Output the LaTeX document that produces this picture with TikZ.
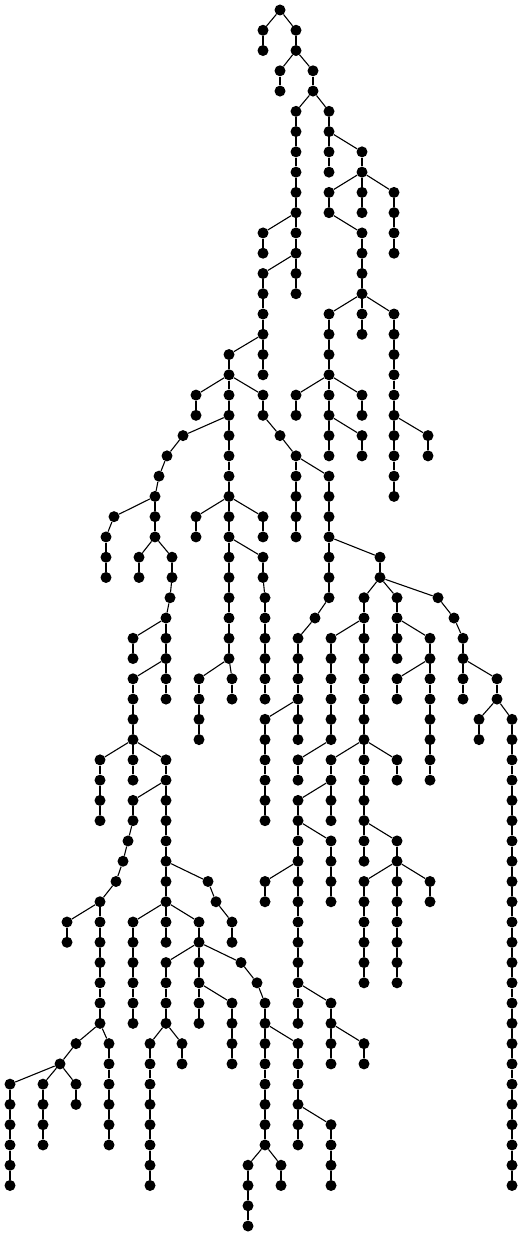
\documentclass[tikz,border=0pt]{standalone}
\begin{document}
\begin{tikzpicture}[x=1pt,y=-1pt,
  dot/.style={circle,fill=black,inner sep=0pt,minimum size=11pt},
  edge/.style={line width=1.1pt,black}]
\useasboundingbox (0,0) rectangle (527,1236);
\node[dot] (n0-280) at (280,10) {};
\foreach \k/\x/\p in {
1/263/280, 1/296/280,
2/263/263, 2/296/296,
3/280/296, 3/313/296,
4/280/280, 4/313/313,
5/296/313, 5/329/313,
6/296/296, 6/329/329,
7/296/296, 7/329/329, 7/362/329,
8/296/296, 8/329/329, 8/362/362,
9/296/296, 9/329/362, 9/362/362, 9/394/362,
10/296/296, 10/329/329, 10/362/362, 10/394/394,
11/263/296, 11/296/296, 11/362/329, 11/394/394,
12/263/263, 12/296/296, 12/362/362, 12/394/394,
13/263/296, 13/296/296, 13/362/362,
14/263/263, 14/296/296, 14/362/362,
15/263/263, 15/329/362, 15/362/362, 15/394/362,
16/263/263, 16/329/329, 16/362/362, 16/394/394,
17/229/263, 17/263/263, 17/329/329, 17/394/394,
18/229/229, 18/263/263, 18/329/329, 18/394/394,
19/196/229, 19/229/229, 19/263/229, 19/296/329, 19/329/329, 19/362/329, 19/394/394,
20/196/196, 20/229/229, 20/263/263, 20/296/296, 20/329/329, 20/362/362, 20/394/394,
21/183/229, 21/229/229, 21/280/263, 21/329/329, 21/362/329, 21/394/394, 21/428/394,
22/167/183, 22/229/229, 22/296/280, 22/329/329, 22/362/362, 22/394/394, 22/428/428,
23/159/167, 23/229/229, 23/296/296, 23/329/296, 23/394/394,
24/155/159, 24/229/229, 24/296/296, 24/329/329, 24/394/394,
25/114/155, 25/155/155, 25/196/229, 25/229/229, 25/263/229, 25/296/296, 25/329/329,
26/106/114, 26/155/155, 26/196/196, 26/229/229, 26/263/263, 26/296/296, 26/329/329,
27/106/106, 27/139/155, 27/172/155, 27/229/229, 27/263/229, 27/329/329, 27/380/329,
28/106/106, 28/139/139, 28/172/172, 28/229/229, 28/263/263, 28/329/329, 28/380/380,
29/170/172, 29/229/229, 29/265/263, 29/329/329, 29/364/380, 29/397/380, 29/438/380,
30/166/170, 30/229/229, 30/265/265, 30/315/329, 30/364/364, 30/397/397, 30/454/438,
31/133/166, 31/166/166, 31/229/229, 31/265/265, 31/298/315, 31/331/364, 31/364/364, 31/397/397, 31/430/397, 31/463/454,
32/133/133, 32/166/166, 32/229/229, 32/265/265, 32/298/298, 32/331/331, 32/364/364, 32/397/397, 32/430/430, 32/463/463,
33/133/166, 33/166/166, 33/199/229, 33/232/229, 33/265/265, 33/298/298, 33/331/331, 33/364/364, 33/397/430, 33/430/430, 33/463/463, 33/497/463,
34/133/133, 34/166/166, 34/199/199, 34/232/232, 34/265/265, 34/298/298, 34/331/331, 34/364/364, 34/397/397, 34/430/430, 34/463/463, 34/497/497,
35/133/133, 35/199/199, 35/265/298, 35/298/298, 35/331/331, 35/364/364, 35/430/430, 35/479/497, 35/512/497,
36/133/133, 36/199/199, 36/265/265, 36/298/298, 36/331/331, 36/364/364, 36/430/430, 36/479/479, 36/512/512,
37/100/133, 37/133/133, 37/166/133, 37/265/265, 37/298/331, 37/331/364, 37/364/364, 37/397/364, 37/430/430, 37/512/512,
38/100/100, 38/133/133, 38/166/166, 38/265/265, 38/298/298, 38/331/331, 38/364/364, 38/397/397, 38/430/430, 38/512/512,
39/100/100, 39/133/166, 39/166/166, 39/265/265, 39/298/331, 39/331/331, 39/364/364, 39/512/512,
40/100/100, 40/133/133, 40/166/166, 40/265/265, 40/298/298, 40/331/331, 40/364/364, 40/512/512,
41/128/133, 41/166/166, 41/298/298, 41/331/298, 41/364/364, 41/397/364, 41/512/512,
42/123/128, 42/166/166, 42/298/298, 42/331/331, 42/364/364, 42/397/397, 42/512/512,
43/116/123, 43/166/166, 43/208/166, 43/265/298, 43/298/298, 43/331/331, 43/364/397, 43/397/397, 43/430/397, 43/512/512,
44/100/116, 44/166/166, 44/216/208, 44/265/265, 44/298/298, 44/331/331, 44/364/364, 44/397/397, 44/430/430, 44/512/512,
45/67/100, 45/100/100, 45/133/166, 45/166/166, 45/199/166, 45/232/216, 45/298/298, 45/364/364, 45/397/397, 45/512/512,
46/67/67, 46/100/100, 46/133/133, 46/166/166, 46/199/199, 46/232/232, 46/298/298, 46/364/364, 46/397/397, 46/512/512,
47/100/100, 47/133/133, 47/166/199, 47/199/199, 47/241/199, 47/298/298, 47/364/364, 47/397/397, 47/512/512,
48/100/100, 48/133/133, 48/166/166, 48/199/199, 48/257/241, 48/298/298, 48/364/364, 48/397/397, 48/512/512,
49/100/100, 49/133/133, 49/166/166, 49/199/199, 49/232/199, 49/265/257, 49/298/298, 49/331/298, 49/512/512,
50/100/100, 50/133/133, 50/166/166, 50/199/199, 50/232/232, 50/265/265, 50/298/298, 50/331/331, 50/512/512,
51/76/100, 51/109/100, 51/150/166, 51/182/166, 51/232/232, 51/265/265, 51/298/265, 51/331/331, 51/364/331, 51/512/512,
52/60/76, 52/109/109, 52/150/150, 52/182/182, 52/232/232, 52/265/265, 52/298/298, 52/331/331, 52/364/364, 52/512/512,
53/10/60, 53/43/60, 53/76/60, 53/109/109, 53/150/150, 53/265/265, 53/298/298, 53/512/512,
54/10/10, 54/43/43, 54/76/76, 54/109/109, 54/150/150, 54/265/265, 54/298/298, 54/512/512,
55/10/10, 55/43/43, 55/109/109, 55/150/150, 55/265/265, 55/298/298, 55/331/298, 55/512/512,
56/10/10, 56/43/43, 56/109/109, 56/150/150, 56/265/265, 56/298/298, 56/331/331, 56/512/512,
57/10/10, 57/150/150, 57/248/265, 57/281/265, 57/331/331, 57/512/512,
58/10/10, 58/150/150, 58/248/248, 58/281/281, 58/331/331, 58/512/512,
59/248/248,
60/248/248}{
  \node[dot] (n\k-\x) at (\x,{10+20.267*\k}) {};
  \pgfmathtruncatemacro{\pk}{\k-1}
  \draw[edge] (n\pk-\p) -- (n\k-\x);
}
\end{tikzpicture}
\end{document}
